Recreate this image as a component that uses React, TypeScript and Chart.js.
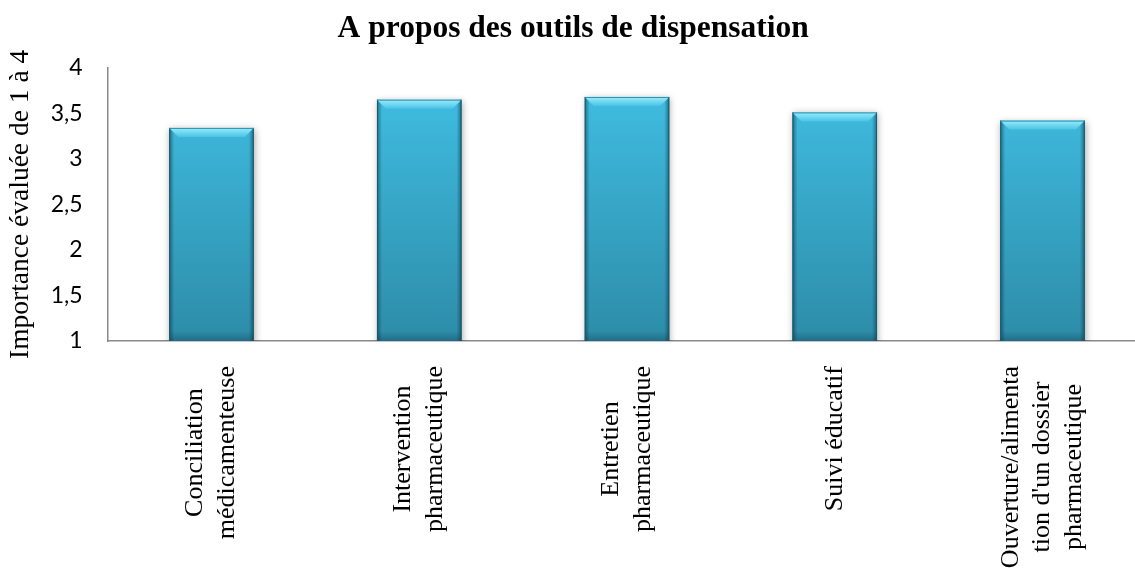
import React, { useEffect, useRef } from "react";
import { Chart, registerables } from "chart.js";

Chart.register(...registerables);

// ---- data ----
const chartTitle = "A propos des outils de dispensation";
const yAxisTitle = "Importance évaluée de 1 à 4";
const categories: string[][] = [
  ["Conciliation", "médicamenteuse"],
  ["Intervention", "pharmaceutique"],
  ["Entretien", "pharmaceutique"],
  ["Suivi éducatif"],
  ["Ouverture/alimenta", "tion d'un dossier", "pharmaceutique"],
];
const importance = [3.34, 3.65, 3.68, 3.51, 3.42];
const yMin = 1;
const yMax = 4;
const yStep = 0.5;

const SERIF = '"Liberation Serif", "Times New Roman", serif';
const SANS = 'Lato, "Open Sans", sans-serif';

const LABEL_FONT_SIZE = 26;
const LABEL_LINE_HEIGHT = 31.7;
const LABEL_GAP = 25;

const barShadowPlugin = {
  id: "barShadow",
  beforeDatasetsDraw(chart: any) {
    const ctx = chart.ctx;
    ctx.save();
    ctx.shadowColor = "rgba(0,0,0,0.35)";
    ctx.shadowBlur = 7;
    ctx.shadowOffsetX = 1;
    ctx.shadowOffsetY = 1;
  },
  afterDatasetsDraw(chart: any) {
    const ctx = chart.ctx;
    ctx.restore();
    const bottom = chart.chartArea.bottom;
    const meta = chart.getDatasetMeta(0);
    meta.data.forEach((bar: any) => {
      const props = bar.getProps(["x", "y", "base", "width"], true);
      const { x, y, width } = props;
      const base = Math.min(props.base, bottom);
      const l = x - width / 2;
      const r = x + width / 2;
      const b = 9;
      ctx.save();
      // side shading
      let g = ctx.createLinearGradient(l, 0, l + 5, 0);
      g.addColorStop(0, "rgba(10,50,65,0.55)");
      g.addColorStop(1, "rgba(10,50,65,0)");
      ctx.fillStyle = g;
      ctx.fillRect(l, y, 5, base - y);
      g = ctx.createLinearGradient(r, 0, r - 5, 0);
      g.addColorStop(0, "rgba(10,50,65,0.55)");
      g.addColorStop(1, "rgba(10,50,65,0)");
      ctx.fillStyle = g;
      ctx.fillRect(r - 5, y, 5, base - y);
      // bottom shading
      g = ctx.createLinearGradient(0, base - 10, 0, base);
      g.addColorStop(0, "rgba(10,50,65,0)");
      g.addColorStop(1, "rgba(10,50,65,0.35)");
      ctx.fillStyle = g;
      ctx.fillRect(l, base - 10, width, 10);
      // top bevel
      g = ctx.createLinearGradient(0, y, 0, y + b);
      g.addColorStop(0, "#9cebfa");
      g.addColorStop(1, "#48c4e7");
      ctx.fillStyle = g;
      ctx.beginPath();
      ctx.moveTo(l, y);
      ctx.lineTo(r, y);
      ctx.lineTo(r - b, y + b);
      ctx.lineTo(l + b, y + b);
      ctx.closePath();
      ctx.fill();
      // outline
      ctx.lineWidth = 1;
      ctx.strokeStyle = "#1b5a6c";
      ctx.beginPath();
      ctx.moveTo(l + 0.5, y);
      ctx.lineTo(l + 0.5, base);
      ctx.moveTo(r - 0.5, y);
      ctx.lineTo(r - 0.5, base);
      ctx.stroke();
      ctx.strokeStyle = "#2590b0";
      ctx.beginPath();
      ctx.moveTo(l, y + 0.5);
      ctx.lineTo(r, y + 0.5);
      ctx.stroke();
      ctx.restore();
    });
  },
};

const xLabelsPlugin = {
  id: "xLabels",
  afterDraw(chart: any) {
    const ctx = chart.ctx;
    const xScale = chart.scales.x;
    const bottom = chart.chartArea.bottom;
    ctx.save();
    ctx.font = `${LABEL_FONT_SIZE}px ${SERIF}`;
    ctx.fillStyle = "#000";
    ctx.textAlign = "center";
    ctx.textBaseline = "middle";
    categories.forEach((lines, i) => {
      const x = xScale.getPixelForTick(i);
      const maxW = Math.max(...lines.map((s) => ctx.measureText(s).width));
      const yc = bottom + LABEL_GAP + maxW / 2;
      ctx.save();
      ctx.translate(x, yc);
      ctx.rotate(-Math.PI / 2);
      const n = lines.length;
      lines.forEach((s, j) => {
        ctx.fillText(s, 0, (j - (n - 1) / 2) * LABEL_LINE_HEIGHT);
      });
      ctx.restore();
    });
    ctx.restore();
  },
};

export default function App() {
  const canvasRef = useRef<HTMLCanvasElement | null>(null);

  useEffect(() => {
    if (!canvasRef.current) return;
    const chart = new Chart(canvasRef.current, {
      type: "bar",
      data: {
        labels: categories.map((c) => c.join(" ")),
        datasets: [
          {
            data: importance,
            backgroundColor: (c: any) => {
              const area = c.chart.chartArea;
              if (!area) return "#38b0d6";
              const g = c.chart.ctx.createLinearGradient(0, area.top, 0, area.bottom);
              g.addColorStop(0, "#41c1e6");
              g.addColorStop(1, "#2d8ca8");
              return g;
            },
            borderWidth: 0,
            barPercentage: 0.407,
            categoryPercentage: 1,
          },
        ],
      },
      options: {
        animation: false,
        responsive: true,
        maintainAspectRatio: false,
        layout: { padding: { left: 0, right: 3.6, top: 0, bottom: 0 } },
        plugins: {
          legend: { display: false },
          tooltip: { enabled: false },
          title: {
            display: true,
            text: chartTitle,
            color: "#000",
            font: { family: SERIF, size: 31.5, weight: "bold" },
            padding: { top: 10, bottom: 20 },
          },
        },
        scales: {
          x: {
            grid: { display: false, drawTicks: false },
            border: { display: true, color: "#898989", width: 1.5 },
            ticks: { display: false },
            afterFit: (s: any) => {
              s.height = 228;
            },
          },
          y: {
            min: yMin,
            max: yMax,
            grid: { display: false, drawTicks: false },
            border: { display: true, color: "#898989", width: 1.5 },
            ticks: {
              stepSize: yStep,
              padding: 25,
              color: "#000",
              font: { family: SANS, size: 23 },
              callback: (v: any) => String(v).replace(".", ","),
            },
            title: {
              display: true,
              text: yAxisTitle,
              color: "#000",
              font: { family: SERIF, size: 27.5 },
              padding: { top: 4, bottom: 0 },
            },
            afterFit: (s: any) => {
              s.width = 107.6;
            },
          },
        },
      },
      plugins: [barShadowPlugin, xLabelsPlugin],
    });
    return () => chart.destroy();
  }, []);

  return (
    <div
      style={{
        position: "fixed",
        left: 0,
        top: 0,
        width: "100vw",
        height: 569,
        overflow: "hidden",
        background: "#fff",
      }}
    >
      <div style={{ position: "relative", width: 1150, height: 569 }}>
        <canvas ref={canvasRef} />
      </div>
    </div>
  );
}
